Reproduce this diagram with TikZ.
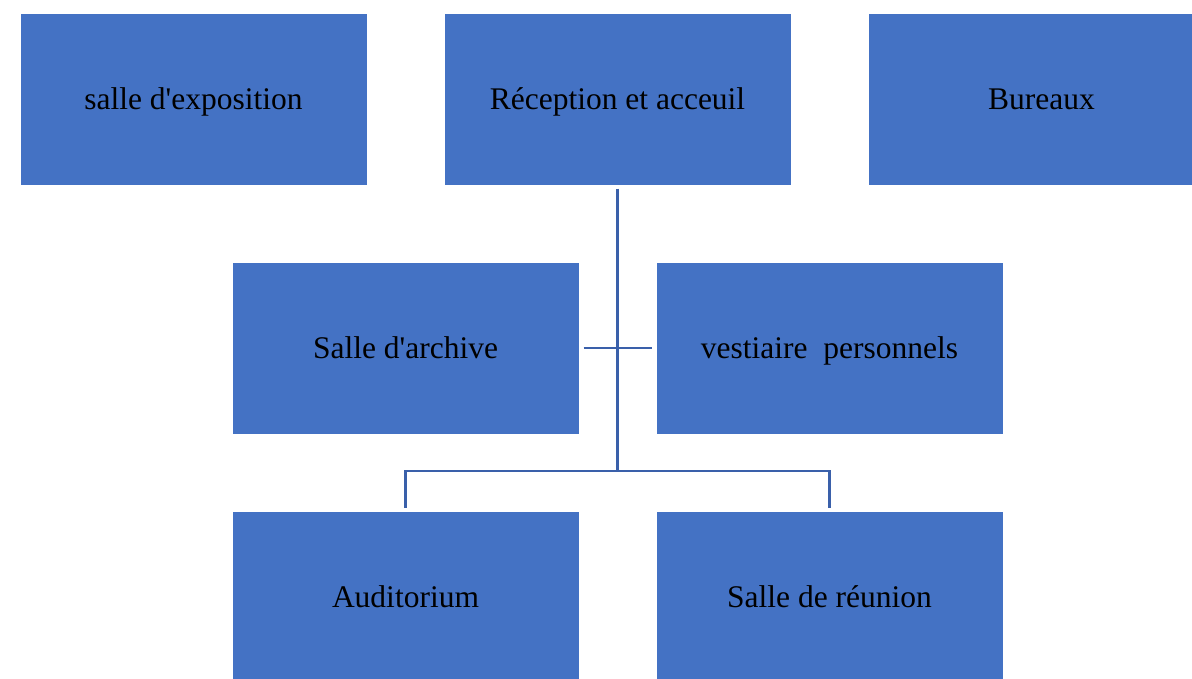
\documentclass[tikz,border=0pt]{standalone}
\usepackage{fontspec}
\setmainfont{Liberation Serif}
\usepackage{xcolor}
\usetikzlibrary{positioning}
\definecolor{boxblue}{HTML}{4472C4}
\definecolor{linkblue}{HTML}{3A60AA}

\begin{document}
\begin{tikzpicture}[
  x=1pt, y=-1pt, node distance=76pt and 76pt,
  room/.style={fill=boxblue, draw=white, line width=1pt, minimum width=347pt, minimum height=172pt, inner sep=0pt, text height=27pt, text depth=6pt, font=\fontsize{31.5}{38}\selectfont},
  link/.style={draw=linkblue, line width=2.6pt}]
\useasboundingbox (0,0) rectangle (1192,678);
\clip (0,0) rectangle (1192,678);
\node[room] (expo) at (193.5,99) {salle d\textquotesingle exposition};
\node[room, right=of expo] (recep) {Réception et acceuil};
\node[room, right=of recep] (bureaux) {Bureaux};
\node[room] (archive) at (405.5,348) {Salle d\textquotesingle archive};
\node[room, right=of archive] (vest) {vestiaire\ \ personnels};
\node[room, below=of archive] (audit) {Auditorium};
\node[room, right=of audit] (reunion) {Salle de réunion};
\coordinate (jct) at (recep.south |- 0,471);
\draw[link, shorten <=3pt] (recep.south) -- (jct);
\draw[link, shorten <=4pt, shorten >=4pt] (archive.east) -- (vest.west);
\draw[link, shorten >=3pt] (jct) -| (audit.north);
\draw[link, shorten >=3pt] (jct) -| (reunion.north);
\end{tikzpicture}
\end{document}
